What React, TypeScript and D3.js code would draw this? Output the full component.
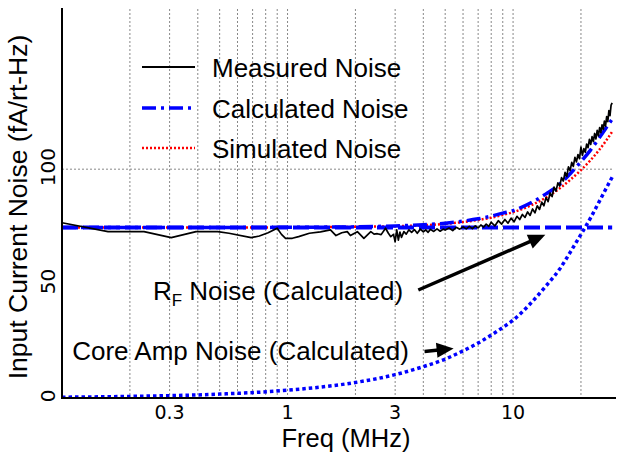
import React from "react";
import * as d3 from "d3";

const W = 624;
const H = 461;

// ---------- data ----------
const xDomain = [0.1, 28.6];
const yDomain = [0, 170];
const xTickValues = [0.3, 1, 3, 10];
const xTickLabels = ["0.3", "1", "3", "10"];
const yTickValues = [0, 50, 100];
const yTickLabels = ["0", "50", "100"];
const xGridValues = [0.2, 0.3, 0.4, 0.5, 0.6, 0.7, 0.8, 0.9, 1, 2, 3, 4, 5, 6, 7, 8, 9, 10, 20];
const yGridValues = [100];

const measuredFreq = [
  0.1, 0.16, 0.231, 0.305, 0.393, 0.49, 0.55, 0.69, 0.75, 0.82, 0.9, 0.94, 0.98, 1.05, 1.12, 1.25, 1.4, 1.55, 1.64,
  1.74, 1.84, 1.9, 2.04, 2.18, 2.34, 2.42, 2.5, 2.6, 2.72, 2.8, 2.87, 2.95, 3.0, 3.05, 3.1, 3.15, 3.2, 3.28, 3.36,
  3.45, 3.55, 3.65, 3.76, 3.88, 4.0, 4.1, 4.2, 4.3, 4.45, 4.6, 4.75, 4.9, 5.0, 5.2, 5.4, 5.6, 5.8, 6.0, 6.2, 6.4,
  6.6, 6.8, 7.0, 7.2, 7.4, 7.6, 7.8, 8.0, 8.3, 8.6, 8.9, 9.2, 9.5, 9.8, 10.1, 10.4, 10.7, 11.0, 11.3, 11.6, 11.9,
  12.2, 12.5, 12.8, 13.1, 13.4, 13.7, 14.0, 14.3, 14.6, 14.9, 15.2, 15.5, 15.8, 16.1, 16.4, 16.7, 17.0, 17.3,
  17.6, 17.9, 18.2, 18.5, 18.8, 19.1, 19.4, 19.7, 20.0, 20.3, 20.6, 20.9, 21.2, 21.5, 21.8, 22.1, 22.4, 22.7,
  23.0, 23.3, 23.6, 23.9, 24.2, 24.5, 24.8, 25.1, 25.4, 25.7, 26.0, 26.3, 26.6, 26.9, 27.2, 27.5,
];
const measuredNoise = [
  76.6, 72.7, 72.7, 70.1, 72.7, 72.7, 72.0, 70.1, 70.8, 72.2, 74.2, 71.5, 69.8, 69.8, 70.5, 72.0, 72.6, 73.5, 71.0,
  72.2, 72.7, 71.0, 72.7, 69.8, 72.7, 71.6, 71.8, 71.4, 74.2, 72.0, 70.5, 71.5, 68.3, 73.5, 69.0, 72.5, 70.2, 72.7, 71.6,
  73.5, 72.4, 73.6, 72.0, 73.8, 72.6, 73.5, 72.4, 73.7, 72.8, 73.9, 72.9, 73.8, 73.4, 74.3, 73.2, 74.6, 73.8, 74.8, 73.9, 75.0,
  74.0, 75.2, 74.3, 75.6, 74.7, 76.0, 75.0, 76.8, 75.2, 77.5, 76.0, 78.0, 76.4, 78.6, 77.0, 79.4, 78.0, 80.2, 78.9, 81.3, 79.8,
  82.6, 80.9, 84.0, 82.4, 85.6, 84.0, 87.6, 85.8, 89.6, 88.0, 92.2, 90.4, 94.0, 92.6, 96.3, 94.8, 98.6, 96.8,
  101.0, 99.4, 103.0, 101.2, 105.2, 103.2, 106.4, 104.6, 109.6, 106.0, 109.0, 107.4, 111.0, 109.4, 113.0, 110.8, 114.2, 112.0,
  115.6, 113.2, 117.0, 114.6, 118.2, 116.0, 119.4, 117.4, 121.0, 118.8, 123.0, 120.8, 125.6, 123.4, 128.0, 129.0,
];

const modelFreq = [0.1, 0.2, 0.5, 1, 2, 3, 4, 5, 6, 7, 8, 9, 10, 12, 14, 16, 18, 20, 22, 24, 26, 27.5];
const calculatedNoise = [
  74.5, 74.5, 74.5, 74.6, 74.8, 75.2, 75.7, 76.4, 77.3, 78.3, 79.5, 80.8, 81.9, 85.3, 89.2, 93.2, 98.2, 103.3, 108.2,
  113.4, 118.4, 121.9,
];
const simulatedNoise = [
  74.5, 74.5, 74.5, 74.6, 74.8, 75.1, 75.5, 76.1, 76.9, 77.8, 78.8, 80.0, 81.2, 84.2, 87.6, 91.4, 95.5, 99.6, 103.8,
  108.2, 112.8, 116.4,
];
const coreAmpNoise = [
  0.35, 0.7, 1.7, 3.4, 6.8, 10.2, 13.7, 17.0, 20.6, 24.0, 27.5, 30.8, 34.0, 41.5, 49.0, 56.0, 64.0, 71.5, 78.5, 85.5,
  92.0, 96.5,
];
const rfFreq = [0.1, 27.5];
const rfNoise = [74.5, 74.5];

// annotation anchor points (freq, value)
const rfArrow = { from: [3.8, 47.2], to: [13.9, 71.3] };
const coreArrow = { from: [4.05, 20.3], to: [5.45, 21.6] };
const rfLabelAt = [0.253, 42.9];
const coreLabelAt = [0.111, 16.6];

const legendLabels = ["Measured Noise", "Calculated Noise", "Simulated Noise"];

// ---------- styles ----------
const BLUE = "#0000ff";
const RED = "#ff0000";
const TEXT_FONT = "'Liberation Sans', Arial, sans-serif";
const TICK_FONT = "'DejaVu Sans', sans-serif";

function Arrow({ x1, y1, x2, y2 }: { x1: number; y1: number; x2: number; y2: number }) {
  const ang = Math.atan2(y2 - y1, x2 - x1);
  const hl = 17;
  const hw = 7.5;
  const bx = x2 - hl * Math.cos(ang);
  const by = y2 - hl * Math.sin(ang);
  const px = -Math.sin(ang) * hw;
  const py = Math.cos(ang) * hw;
  return (
    <g>
      <line x1={x1} y1={y1} x2={bx + 2 * Math.cos(ang)} y2={by + 2 * Math.sin(ang)} stroke="#000" strokeWidth={3.5} />
      <polygon points={`${x2},${y2} ${bx + px},${by + py} ${bx - px},${by - py}`} fill="#000" />
    </g>
  );
}

export default function App() {
  const x = d3.scaleLog().domain(xDomain).range([62, 616]);
  const y = d3.scaleLinear().domain(yDomain).range([398, 9]);

  const smooth = (fs: number[], vs: number[]) =>
    d3
      .line<number>()
      .x((_, i) => x(fs[i]))
      .y((v) => y(v))
      .curve(d3.curveMonotoneX)(vs) as string;
  const jagged = d3
    .line<number>()
    .x((_, i) => x(measuredFreq[i]))
    .y((v) => y(v))(measuredNoise) as string;

  const [x0, x1] = x.range();
  const [yb, yt] = y.range();

  const legendY = [67, 108, 148];

  return (
    <svg
      width={W}
      height={H}
      viewBox={`0 0 ${W} ${H}`}
      style={{ position: "absolute", left: 0, top: 0, background: "#fff" }}
    >
      <rect x={0} y={0} width={W} height={H} fill="#fff" />
      {/* grid */}
      {xGridValues.map((v) => (
        <line key={"gx" + v} x1={x(v)} x2={x(v)} y1={yt} y2={yb} stroke="#888" strokeWidth={1} strokeDasharray="2 2" />
      ))}
      {yGridValues.map((v) => (
        <line key={"gy" + v} x1={x0} x2={x1 - 2} y1={y(v)} y2={y(v)} stroke="#888" strokeWidth={1} strokeDasharray="2 2" />
      ))}

      {/* series */}
      <path d={smooth(modelFreq, simulatedNoise)} fill="none" stroke={RED} strokeWidth={2.5} strokeDasharray="2 2" />
      <path d={smooth(rfFreq, rfNoise)} fill="none" stroke={BLUE} strokeWidth={4} strokeDasharray="16 5" />
      <path d={smooth(modelFreq, calculatedNoise)} fill="none" stroke={BLUE} strokeWidth={3.5} strokeDasharray="14 5 3 5" />
      <path d={smooth(modelFreq, coreAmpNoise)} fill="none" stroke={BLUE} strokeWidth={3.5} strokeDasharray="3.5 3" />
      <path d={jagged} fill="none" stroke="#000" strokeWidth={1.7} strokeLinejoin="round" />

      {/* axes */}
      <line x1={x0} x2={x0} y1={yt - 1} y2={yb + 1} stroke="#000" strokeWidth={2} />
      <line x1={x0 - 1} x2={x1} y1={yb} y2={yb} stroke="#000" strokeWidth={2} />

      {/* tick labels */}
      {xTickValues.map((v, i) => (
        <text key={"xt" + v} x={x(v)} y={419} textAnchor="middle" fontFamily={TICK_FONT} fontSize={19} fill="#000">
          {xTickLabels[i]}
        </text>
      ))}
      {yTickValues.map((v, i) => (
        <text
          key={"yt" + v}
          transform={`translate(55,${y(v) - 2}) rotate(-90)`}
          textAnchor="middle"
          fontFamily={TICK_FONT}
          fontSize={20}
          fill="#000"
        >
          {yTickLabels[i]}
        </text>
      ))}

      {/* axis titles */}
      <text x={346} y={447} textAnchor="middle" fontFamily={TEXT_FONT} fontSize={25.5} fill="#000">
        Freq (MHz)
      </text>
      <text
        transform={`translate(27,207) rotate(-90)`}
        textAnchor="middle"
        fontFamily={TEXT_FONT}
        fontSize={26.5}
        fill="#000"
      >
        Input Current Noise (fA/rt-Hz)
      </text>

      {/* legend */}
      <line x1={142} x2={195} y1={legendY[0]} y2={legendY[0]} stroke="#000" strokeWidth={2} />
      <line x1={142} x2={195} y1={legendY[1]} y2={legendY[1]} stroke={BLUE} strokeWidth={3.5} strokeDasharray="14 5 3 5" />
      <line x1={142} x2={195} y1={legendY[2]} y2={legendY[2]} stroke={RED} strokeWidth={2.5} strokeDasharray="2 2" />
      {legendLabels.map((t, i) => (
        <text key={t} x={212} y={legendY[i] + 10} fontFamily={TEXT_FONT} fontSize={26} fill="#000">
          {t}
        </text>
      ))}

      {/* annotations */}
      <text x={x(rfLabelAt[0])} y={y(rfLabelAt[1])} fontFamily={TEXT_FONT} fontSize={26} fill="#000">
        R
        <tspan fontSize={17} dy={6}>
          F
        </tspan>
        <tspan dy={-6}> Noise (Calculated)</tspan>
      </text>
      <text x={x(coreLabelAt[0])} y={y(coreLabelAt[1])} fontFamily={TEXT_FONT} fontSize={26} fill="#000">
        Core Amp Noise (Calculated)
      </text>
      <Arrow x1={x(rfArrow.from[0])} y1={y(rfArrow.from[1])} x2={x(rfArrow.to[0])} y2={y(rfArrow.to[1])} />
      <Arrow x1={x(coreArrow.from[0])} y1={y(coreArrow.from[1])} x2={x(coreArrow.to[0])} y2={y(coreArrow.to[1])} />
    </svg>
  );
}
